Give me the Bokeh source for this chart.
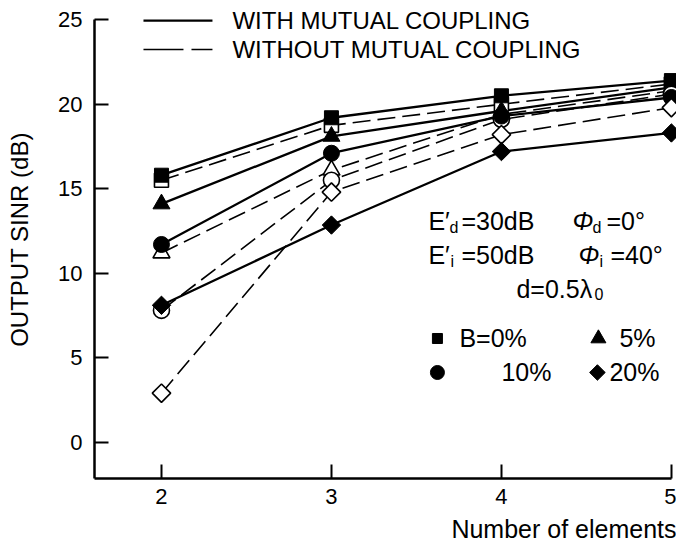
import math
from bokeh.plotting import figure
from bokeh.models import Range1d, Title, FixedTicker
from bokeh.core.properties import value
from bokeh.embed import file_html
from bokeh.resources import INLINE

# ---- data ----
n_elements = [2, 3, 4, 5]
# with mutual coupling (solid, filled markers)
sq_with = [15.8, 19.2, 20.5, 21.4]
tri_with = [14.1, 18.1, 19.6, 21.0]
cir_with = [11.7, 17.1, 19.3, 20.4]
dia_with = [8.1, 12.85, 17.2, 18.3]
# without mutual coupling (dashed, open markers)
sq_without = [15.5, 18.75, 20.0, 21.2]
tri_without = [11.2, 16.1, 19.4, 20.8]
cir_without = [7.8, 15.5, 19.1, 20.6]
dia_without = [2.9, 14.8, 18.2, 19.8]

x_ticks = [2, 3, 4, 5]
y_ticks = [0, 5, 10, 15, 20, 25]

FONT = "Liberation Sans"

p = figure(width=676, height=550,
           x_range=Range1d(1.606, 5.03), y_range=Range1d(-2.15, 26.14),
           output_backend="svg", toolbar_location=None,
           min_border_left=94, min_border_right=0, min_border_top=0,
           min_border_bottom=72)
p.outline_line_color = None
p.grid.visible = False
p.background_fill_color = "white"

for ax in (p.xaxis, p.yaxis):
    ax.axis_line_width = 2.5
    ax.axis_line_color = "black"
    ax.major_tick_line_width = 2
    ax.major_tick_line_color = "black"
    ax.major_tick_in = 14
    ax.major_tick_out = 0
    ax.minor_tick_line_color = None
    ax.major_label_text_font = FONT
    ax.major_label_text_font_size = "22px"
    ax.major_label_text_color = "black"

p.xaxis.ticker = FixedTicker(ticks=x_ticks)
p.yaxis.ticker = FixedTicker(ticks=y_ticks)
p.xaxis.bounds = (1.606, 5.0)
p.yaxis.bounds = (-2.15, 25.0)
p.xaxis.major_label_standoff = 10
p.yaxis.major_label_standoff = 12

p.yaxis.axis_label = "OUTPUT SINR (dB)"
p.yaxis.axis_label_text_font = FONT
p.yaxis.axis_label_text_font_size = "24px"
p.yaxis.axis_label_text_font_style = "normal"
p.yaxis.axis_label_text_color = "black"
p.yaxis.axis_label_standoff = 22

p.add_layout(Title(text="Number of elements", align="right",
                   text_font=FONT, text_font_size="25px",
                   text_color="black",
                   text_font_style="normal", standoff=12), "below")

# ---- series ----
series = [
    (sq_with, sq_without, "square", 14, 0.0),
    (tri_with, tri_without, "triangle", 17, 0.0),
    (cir_with, cir_without, "circle", 16, 0.0),
    (dia_with, dia_without, "square", 13, math.pi / 4),
]
for yw, yo, mk, sz, ang in series:
    p.line(n_elements, yo, line_color="black", line_width=1.6, line_dash="18 7")
    p.line(n_elements, yw, line_color="black", line_width=2.3)
for yw, yo, mk, sz, ang in series:
    p.scatter(n_elements, yo, marker=mk, size=sz, angle=ang,
              fill_color="white", line_color="black", line_width=1.6)
    p.scatter(n_elements, yw, marker=mk, size=sz, angle=ang,
              fill_color="black", line_color="black", line_width=1)

# ---- annotation helpers (pixel positions of the reference -> data) ----
def fx(px):
    return 2 + (px - 161) / 170.0

def fy(py):
    return (441.7 - py) / 16.9

def txt(px, py, s, size="25px", style="normal"):
    p.text([fx(px)], [fy(py)], text=[s], text_font=value(FONT),
           text_font_size=size, text_font_style=style,
           text_align="left", text_baseline="middle", text_color="black")

# top legend
p.line([fx(143), fx(212)], [fy(20), fy(20)], line_color="black", line_width=2.3)
p.line([fx(143), fx(212)], [fy(49), fy(49)], line_color="black", line_width=1.6,
       line_dash="40 8")
txt(232, 20, "WITH MUTUAL COUPLING", "24px")
txt(232, 49, "WITHOUT MUTUAL COUPLING", "24px")

# parameter box
txt(428, 220, "E\u2032")
txt(449, 227, "d", "16px")
txt(461, 220, "=30dB")
txt(572, 220, "\u03a6", style="italic")
txt(592, 227, "d", "16px")
txt(606, 220, "=0\u00b0")

txt(428, 254, "E\u2032")
txt(450, 261, "i", "16px")
txt(461, 254, "=50dB")
txt(578, 254, "\u03a6", style="italic")
txt(599, 261, "i", "16px")
txt(610, 254, "=40\u00b0")

txt(516, 288, "d=0.5\u03bb")
txt(594, 293, "0", "16px")

p.scatter([fx(437)], [fy(338)], marker="square", size=10, fill_color="black", line_color="black")
txt(459, 338, "B=0%")
p.scatter([fx(598)], [fy(338)], marker="triangle", size=15, fill_color="black", line_color="black")
txt(619, 338, "5%")
p.scatter([fx(437)], [fy(372)], marker="circle", size=14, fill_color="black", line_color="black")
txt(501, 372, "10%")
p.scatter([fx(597)], [fy(372)], marker="square", size=11, angle=math.pi / 4,
          fill_color="black", line_color="black")
txt(609, 372, "20%")

open("out.html", "w").write(file_html(p, INLINE))
